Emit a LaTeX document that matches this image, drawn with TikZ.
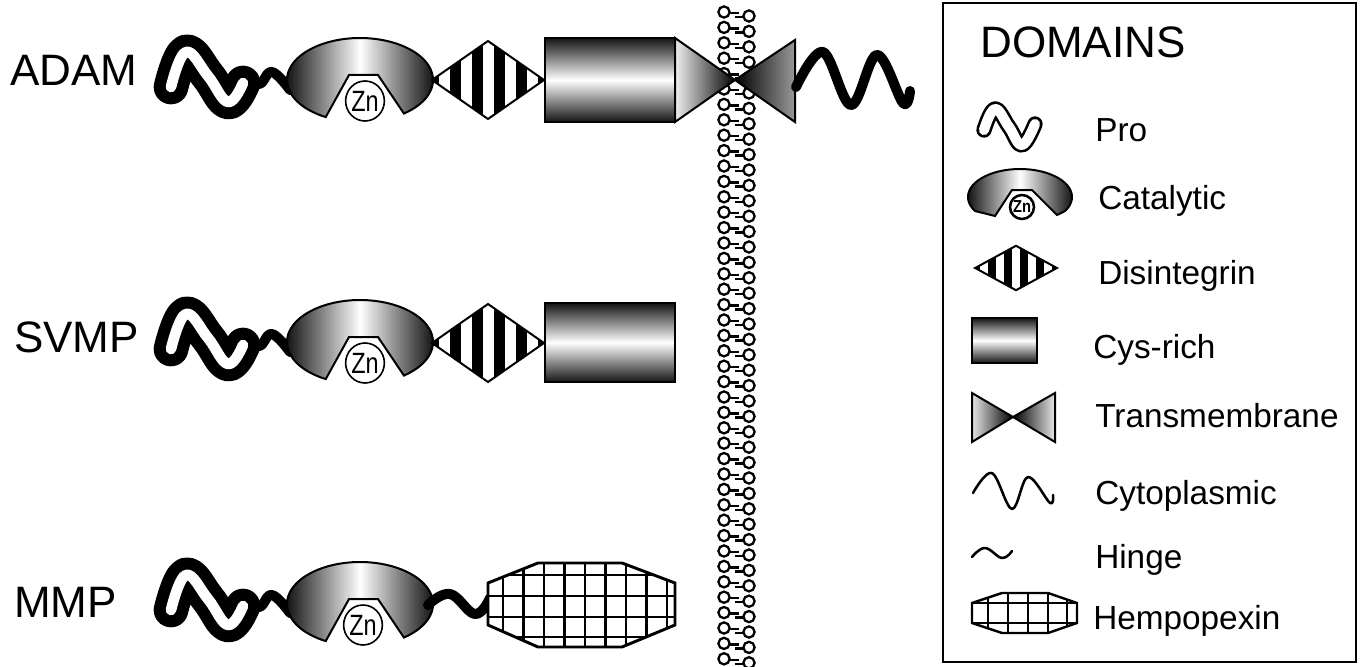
\documentclass[tikz,border=0pt]{standalone}
\usepackage{fontspec}
\setmainfont{Liberation Sans}
\usepackage{graphicx}
\usetikzlibrary{shapes.geometric}

% outlined band: a thick black stroke with a thinner white stroke on top
\newcommand{\bandline}[3]{%
  \draw[line width=#1, line cap=round, line join=round]
    plot[smooth, tension=0.7] coordinates {#3};
  \draw[white, line width=#2, line cap=round, line join=round]
    plot[smooth, tension=0.7] coordinates {#3};
}

% catalytic domain, centred on the origin of the current scope
\newcommand{\catalyticshape}{%
  \draw[outline, left color=black!92, right color=black!92, middle color=white]
    plot[domain=118:413, samples=80] ({73*cos(\x)},{42*sin(\x)})
    -- (18,-5) -- (-11,-5) -- cycle;
}

% striped disintegrin diamond, centred on the origin
\newcommand{\disintegrinshape}{%
  \begin{scope}
    \clip (-56,0) -- (0,-39) -- (56,0) -- (0,39) -- cycle;
    \fill[white] (-57,-40) rectangle (57,40);
    \foreach \c in {-55,-33,-11,11,33,55}
      \fill (\c-5.5,-40) rectangle (\c+5.5,40);
  \end{scope}
  \draw[outline] (-56,0) -- (0,-39) -- (56,0) -- (0,39) -- cycle;
}

\begin{document}
\begin{tikzpicture}[x=0.75pt, y=-0.75pt,
  outline/.style={draw=black, line width=1.5pt, line join=miter},
  thickwave/.style={line width=7.5pt, line cap=round, line join=round},
  thinwave/.style={line width=1.9pt, line cap=round, line join=round},
  lipid/.style={line width=1.7pt},
  gridline/.style={line width=2.2pt},
  rowlabel/.style={font=\fontsize{33}{36}\selectfont, anchor=base west, inner sep=0pt},
  legendtext/.style={font=\fontsize{25}{28}\selectfont, anchor=base west, inner sep=0pt},
  zinc/.style={draw, ellipse, fill=white, line width=1.2pt, inner sep=0pt,
               minimum width=27pt, minimum height=30pt,
               font=\fontsize{22}{22}\selectfont}]

\useasboundingbox (0,0) rectangle (1361,667);
\fill[white] (0,0) rectangle (1361,667);

% ---------------- lipid bilayer ----------------
\foreach \i in {0,...,42} {
  \pgfmathsetmacro{\yy}{12+15.4*\i}
  \draw[lipid] (729,\yy+1) -- (739,\yy+1);
  \draw[lipid] (735,\yy+5) -- (743,\yy+5);
  \draw[lipid, fill=white] (724,\yy) circle[radius=5.6];
  \draw[lipid, fill=white] (749,\yy+4) circle[radius=5.6];
}

% ---------------- row labels ----------------
\node[rowlabel] (adam) at (10,86) {ADAM};
\node[rowlabel] (svmp) at (14,352) {SVMP};
\node[rowlabel] (mmp) at (14,617) {MMP};

% ---------------- pro domains and hinges ----------------
\foreach \dy in {0,262,523} {
  \begin{scope}[yshift=-\dy*0.75pt]
    \draw[thickwave] plot[smooth, tension=0.7] coordinates {(244,74) (259,84) (272,72) (290,90)};
    \bandline{26pt}{8pt}{(171,87) (186,52) (208,76) (228,102) (243,83)}
  \end{scope}
}

% ---------------- catalytic domains ----------------
\begin{scope}[shift={(360,80)}]
  \catalyticshape
  \node[zinc] (zn1) at (5,21) {\scalebox{0.8}[1]{Zn}};
\end{scope}
\begin{scope}[shift={(360,342)}]
  \catalyticshape
  \node[zinc] (zn2) at (5,21) {\scalebox{0.8}[1]{Zn}};
\end{scope}
\begin{scope}[shift={(360,604)}]
  \catalyticshape
  \node[zinc] (zn3) at (3,21) {\scalebox{0.8}[1]{Zn}};
\end{scope}

% ---------------- disintegrin domains ----------------
\begin{scope}[shift={(488,80)}]
  \disintegrinshape
\end{scope}
\begin{scope}[shift={(488,343)}]
  \disintegrinshape
\end{scope}

% ---------------- cys-rich domains ----------------
\draw[outline, top color=black!92, bottom color=black!92, middle color=white]
  (545,38) rectangle (675,122);
\draw[outline, top color=black!92, bottom color=black!92, middle color=white]
  (545,303) rectangle (675,382);

% ---------------- transmembrane and cytoplasmic (ADAM) ----------------
\draw[outline, left color=black!6, right color=black] (675,38) -- (735,80) -- (675,122) -- cycle;
\draw[outline, left color=black, right color=black!40] (795,40) -- (735,80) -- (795,122) -- cycle;
\draw[thickwave] plot[smooth, tension=0.6] coordinates
  {(796,87) (823,52) (851,105) (877,55) (903,103) (910,91)};

% ---------------- MMP hinge and hemopexin ----------------
\draw[thickwave] plot[smooth, tension=0.7] coordinates {(428,605) (450,594) (475,614) (490,598)};
\begin{scope}
  \clip (488,583) -- (538,563) -- (622,563) -- (675,583) -- (675,625) -- (622,647) -- (538,647) -- (488,625) -- cycle;
  \fill[white] (485,560) rectangle (680,650);
  \foreach \gx in {503,523.5,544,564.5,585,605.5,626,646.5,667}
    \draw[gridline] (\gx,560) -- (\gx,650);
  \foreach \gy in {575,596,617,637}
    \draw[gridline] (485,\gy) -- (680,\gy);
\end{scope}
\draw[gridline, line join=miter] (488,583) -- (538,563) -- (622,563) -- (675,583) -- (675,625) -- (622,647) -- (538,647) -- (488,625) -- cycle;

% ---------------- legend ----------------
\draw[line width=1.6pt] (943,3) rectangle (1356,662);
\node[rowlabel] (domains) at (980,58) {DOMAINS};

% pro
\bandline{11.5pt}{7.6pt}{(984,130) (995,109) (1009,127) (1022,145) (1035,124)}
\node[legendtext] (tpro) at (1095,142) {Pro};

% catalytic
\draw[outline, left color=black!92, right color=black!92, middle color=white]
  plot[domain=150:390, samples=60] ({1020+52*cos(\x)},{197+28*sin(\x)})
  -- (1057,215) -- (1032,190) -- (1012,190) -- (995,216) -- cycle;
\node[draw, circle, fill=white, line width=1.9pt, inner sep=0pt, minimum size=18pt,
      font=\fontsize{13}{13}\bfseries] (znl) at (1022,207) {\scalebox{0.85}[1]{Zn}};
\node[legendtext] (tcat) at (1098,209) {Catalytic};

% disintegrin
\begin{scope}[shift={(1016,268)}, xscale=0.73, yscale=0.57]
  \disintegrinshape
\end{scope}
\node[legendtext] (tdis) at (1098,284) {Disintegrin};

% cys-rich
\draw[outline, top color=black!92, bottom color=black!92, middle color=white]
  (972,318) rectangle (1037,363);
\node[legendtext] (tcys) at (1093,358) {Cys-rich};

% transmembrane
\draw[outline, left color=black!10, right color=black] (972,393) -- (1013,417) -- (972,442) -- cycle;
\draw[outline, left color=black, right color=black!10] (1055,393) -- (1013,417) -- (1055,442) -- cycle;
\node[legendtext] (ttm) at (1095,427) {Transmembrane};

% cytoplasmic
\draw[thinwave] plot[smooth, tension=0.6] coordinates
  {(973,493) (992,473) (1012,509) (1028,477) (1050,503) (1053,495)};
\node[legendtext] (tcyto) at (1095,504) {Cytoplasmic};

% hinge
\draw[thinwave] plot[smooth, tension=0.7] coordinates {(972,557) (985,548) (1002,558) (1012,551)};
\node[legendtext] (thinge) at (1095,568) {Hinge};

% hemopexin
\begin{scope}
  \clip (972,603) -- (1002,593) -- (1048,593) -- (1077,603) -- (1077,623) -- (1048,633) -- (1002,633) -- (972,623) -- cycle;
  \fill[white] (970,590) rectangle (1080,636);
  \foreach \gx in {988,1008,1028,1048,1067}
    \draw[line width=1.8pt] (\gx,590) -- (\gx,636);
  \foreach \gy in {603,623}
    \draw[line width=1.8pt] (970,\gy) -- (1080,\gy);
\end{scope}
\draw[line width=1.8pt, line join=miter] (972,603) -- (1002,593) -- (1048,593) -- (1077,603) -- (1077,623) -- (1048,633) -- (1002,633) -- (972,623) -- cycle;
\node[legendtext] (themo) at (1093,629) {Hempopexin};

\end{tikzpicture}
\end{document}
